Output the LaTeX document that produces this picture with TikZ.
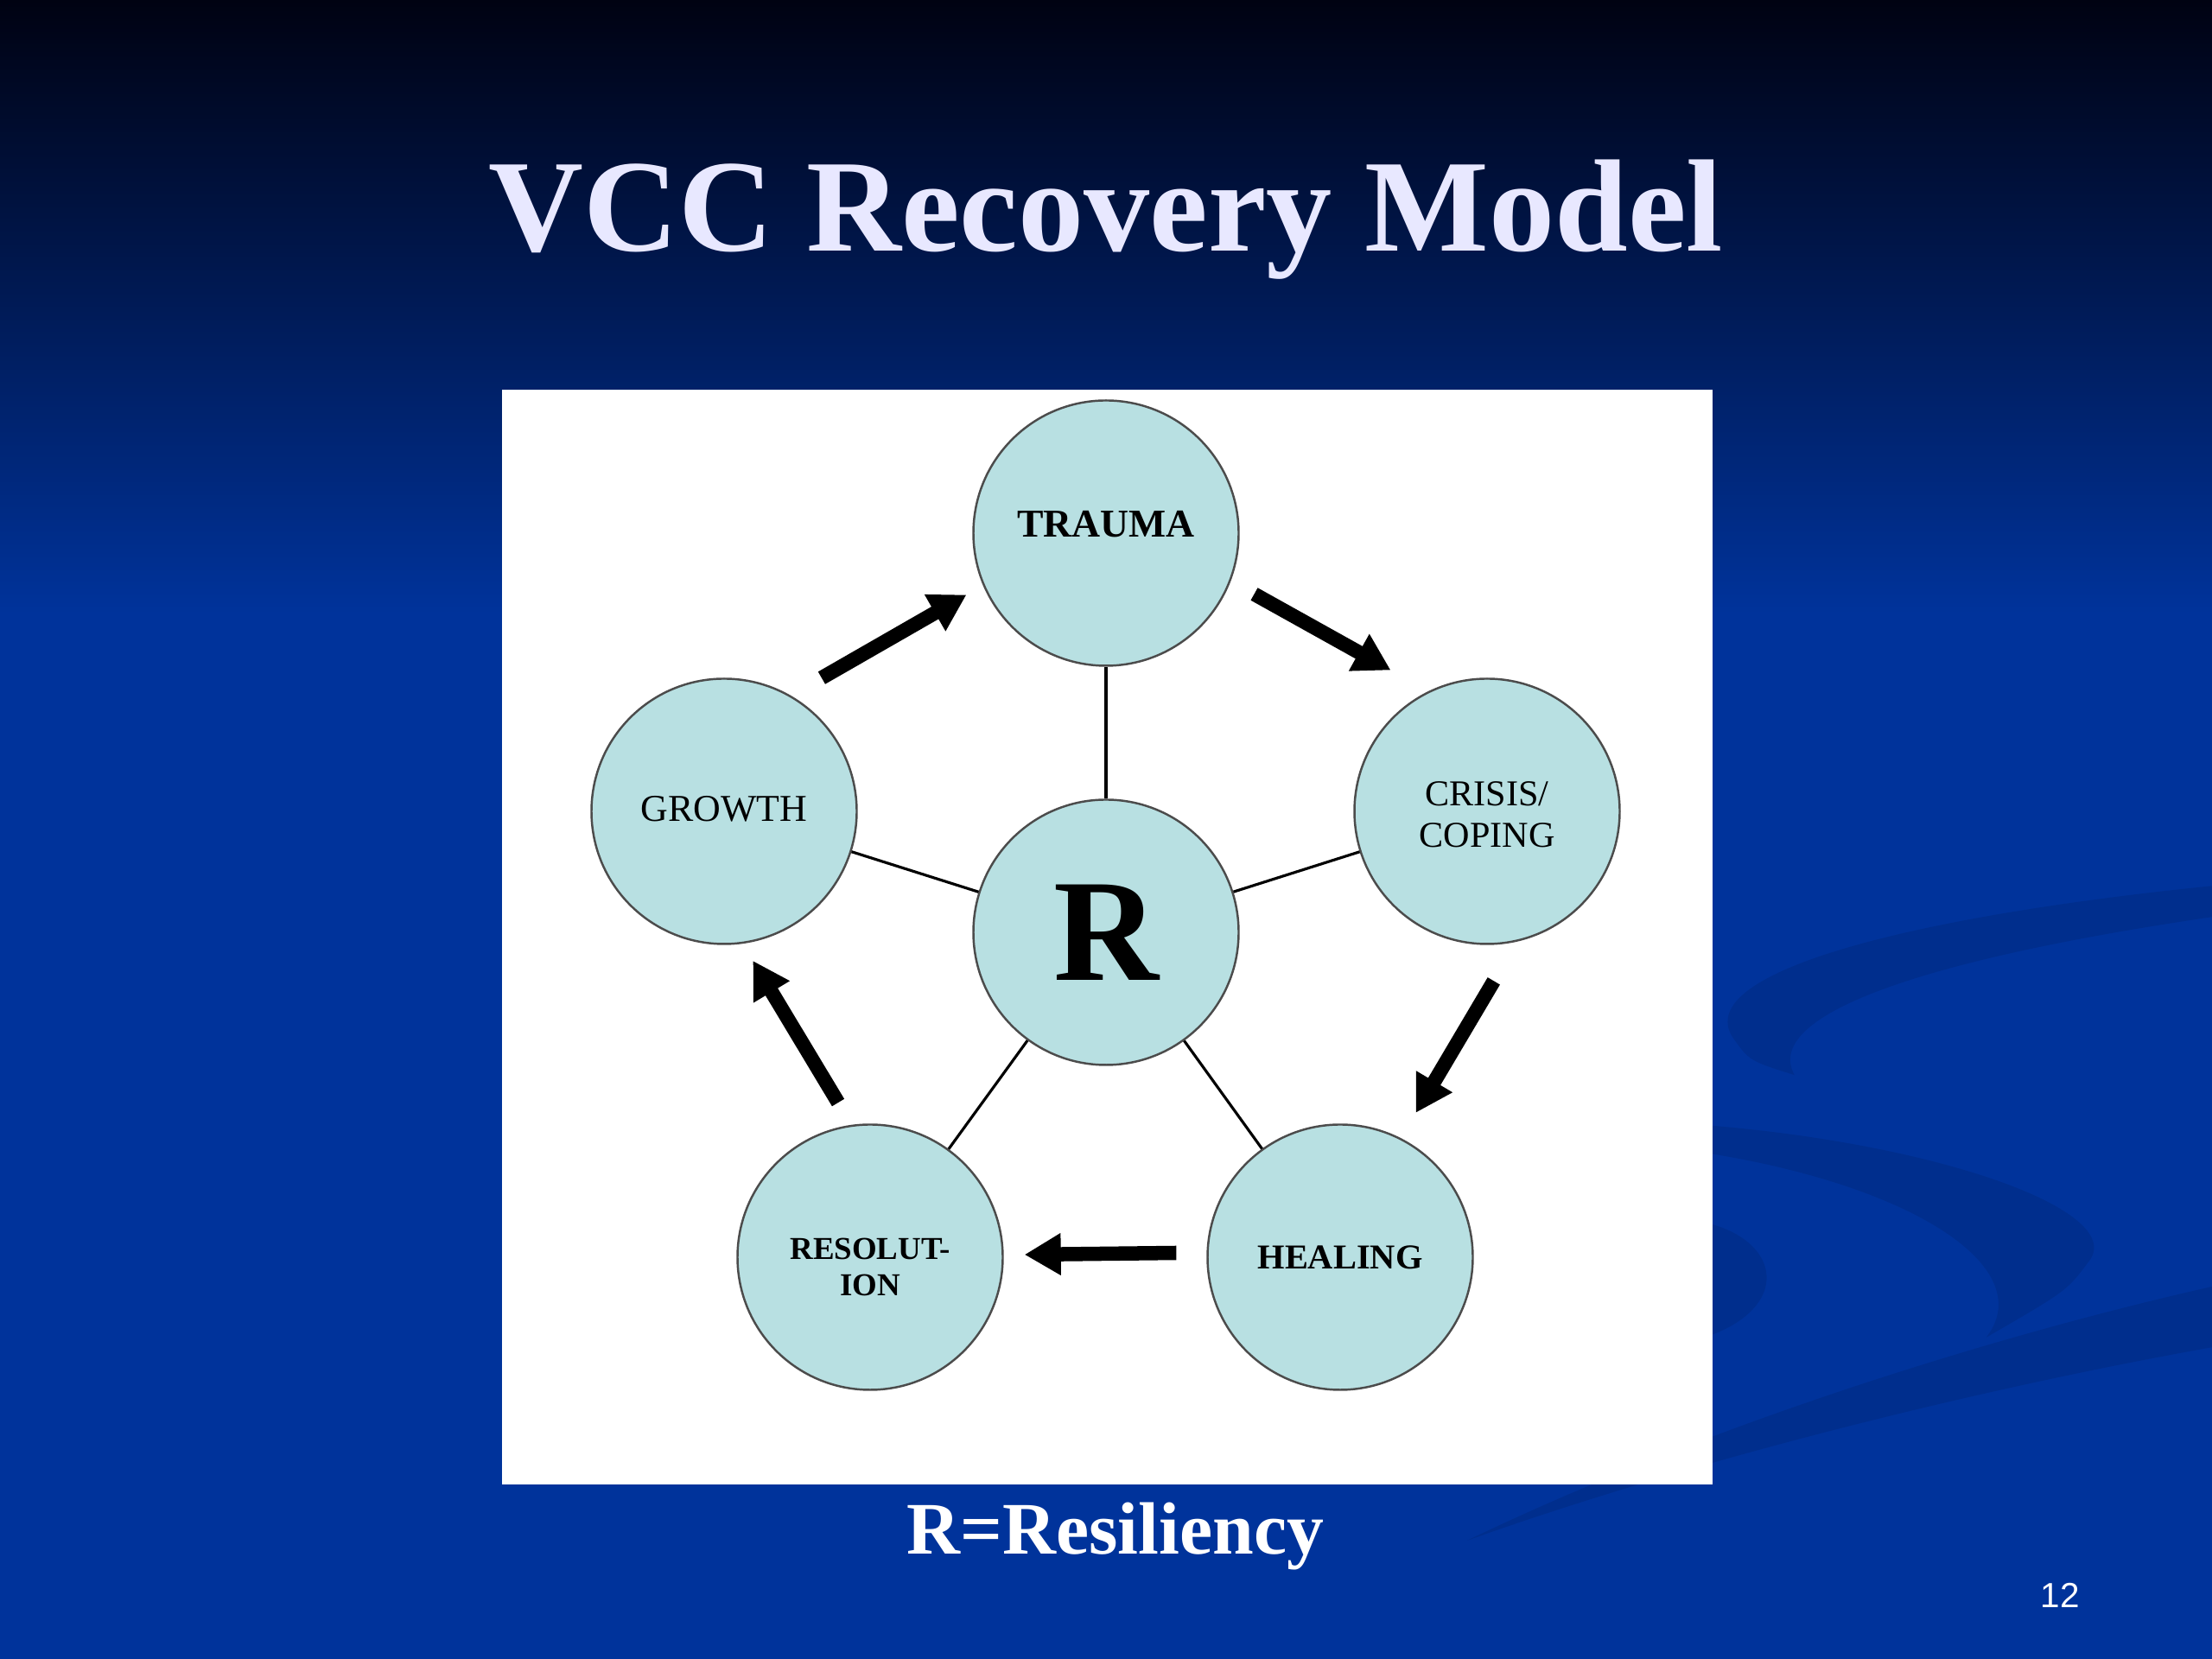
\documentclass[tikz,border=0pt]{standalone}
\usepackage{fontspec}
\setmainfont{Liberation Serif}
\newfontfamily\numfont{Liberation Sans}
\usepackage{tikz}
\usetikzlibrary{shapes.geometric, arrows.meta, positioning, calc}
\definecolor{slideblue}{RGB}{0,51,155}
\definecolor{slidemid}{RGB}{0,32,98}
\definecolor{slidetop}{RGB}{0,2,18}
\definecolor{titlecol}{RGB}{232,232,255}
\definecolor{stagefill}{RGB}{184,224,226}
\tikzstyle{stage} = [circle, draw=black!70, line width=0.7pt, fill=stagefill, minimum size=3.07cm, inner sep=0pt, align=center, font=\fontsize{12}{13.5}\selectfont]
\tikzstyle{spoke} = [line width=0.9pt, black]
\tikzstyle{arrow} = [line width=4.7pt, -{Triangle[length=0.42cm, width=0.46cm]}]
\tikzstyle{swoosh} = [fill=black, opacity=0.09]

\begin{document}
\begin{tikzpicture}
          \useasboundingbox (0,0) rectangle (25.6,19.2);

          % slide background
          \fill[slideblue] (0,0) rectangle (25.6,19.2);
          \shade[top color=slidetop, middle color=slidemid, bottom color=slideblue] (0,19.2) rectangle (25.6,12.1);

          % background swooshes, drawn in slide pixels
          \begin{scope}[x=0.016327cm, y=-0.016327cm, yshift=19.2cm]
              \fill[swoosh] (1568,628) .. controls (1350,650) and (1200,690) .. (1228,735) .. controls (1240,752) .. (1272,762) .. controls (1250,722) and (1350,682) .. (1568,650) -- cycle;
              \fill[swoosh] (1214,798) .. controls (1380,812) and (1510,860) .. (1480,895) .. controls (1465,915) .. (1408,948) .. controls (1445,900) and (1360,842) .. (1214,818) -- cycle;
              \fill[swoosh] (1214,868) .. controls (1262,882) and (1268,925) .. (1214,946) -- cycle;
              \fill[swoosh] (1568,912) -- (1568,955) .. controls (1400,985) and (1200,1035) .. (1040,1092) .. controls (1200,1015) and (1400,950) .. (1568,912) -- cycle;
          \end{scope}

          % title and picture frame
          \node[anchor=base, text=titlecol, font=\fontsize{43.3}{50}\selectfont\bfseries] (title) at (12.80,16.29) {VCC Recovery Model};
          \fill[white] (5.81,2.02) rectangle (19.82,14.69);

          % stages of the model
          \node[stage, font=\fontsize{48}{56}\selectfont\bfseries] (r) at (12.80,8.41) {R};
          \node[stage, font=\fontsize{13}{15}\selectfont\bfseries] (trauma) at (12.80,13.03) {\raisebox{6pt}{TRAUMA}};
          \node[stage] (crisis) at (17.21,9.81) {\raisebox{-2.3pt}[\height][\depth]{\begin{tabular}{@{}c@{}}CRISIS/\\[0pt]COPING\end{tabular}}};
          \node[stage, font=\fontsize{11.5}{14}\selectfont\bfseries] (healing) at (15.51,4.65) {HEALING};
          \node[stage, font=\fontsize{10.5}{12.5}\selectfont\bfseries] (resolution) at (10.07,4.65) {\raisebox{-4.2pt}[\height][\depth]{\begin{tabular}{@{}c@{}}RESOLUT-\\[-0.5pt]ION\end{tabular}}};
          \node[stage, font=\fontsize{12.5}{15}\selectfont] (growth) at (8.38,9.81) {\raisebox{2pt}{GROWTH}};

          \draw[spoke] (r) -- (trauma);
          \draw[spoke] (r) -- (crisis);
          \draw[spoke] (r) -- (healing);
          \draw[spoke] (r) -- (resolution);
          \draw[spoke] (r) -- (growth);

          \draw[arrow, shorten <=0.41cm, shorten >=0.22cm] (growth.60.1) -- (trauma.203.4);
          \draw[arrow, shorten <=0.31cm, shorten >=0.50cm] (trauma.-21.1) -- (crisis.116.8);
          \draw[arrow, shorten <=0.53cm, shorten >=0.34cm] (crisis.-77.4) -- (healing.63.2);
          \draw[arrow, shorten <=0.35cm, shorten >=0.24cm] (healing.178.2) -- (resolution.1.8);
          \draw[arrow, shorten <=0.30cm, shorten >=0.23cm] (resolution.98.2) -- (growth.-82.1);

          % caption and page number
          \node[anchor=base, text=white, font=\fontsize{24.4}{29}\selectfont\bfseries] (caption) at (12.91,1.21) {R=Resiliency};
          \node[anchor=base, text=white, font=\numfont\fontsize{11.5}{14}\selectfont] (pagenum) at (23.84,0.59) {12};
      \end{tikzpicture}
\end{document}
